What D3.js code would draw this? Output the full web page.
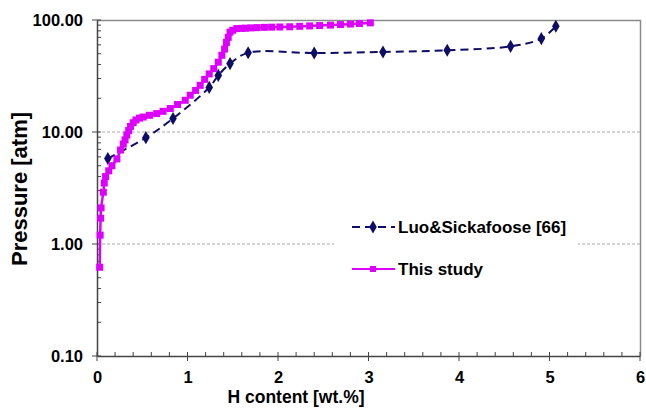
<!DOCTYPE html>
<html>
<head>
<meta charset="utf-8">
<script src="https://cdn.jsdelivr.net/npm/d3@7"></script>
<style>
  body { margin: 0; background: #fff; }
  svg text { font-family: "Liberation Sans", Arial, sans-serif; font-weight: bold; fill: #000; }
</style>
</head>
<body>
<div id="chart"></div>
<script>
// data
var luoX = [0.12, 0.54, 0.84, 1.24, 1.34, 1.47, 1.67, 2.40, 3.16, 3.87, 4.57, 4.91, 5.07];
var luoP = [5.8, 8.9, 13.2, 25, 32, 40.8, 51, 50.7, 51.8, 53.7, 58.2, 68.2, 87.9];

var studyX = [0.03, 0.035, 0.04, 0.045, 0.07, 0.08, 0.095, 0.13, 0.165, 0.22, 0.26, 0.29, 0.31, 0.33, 0.35,
  0.37, 0.40, 0.43, 0.47, 0.51, 0.58, 0.66, 0.73, 0.81, 0.89, 0.975, 1.03, 1.09, 1.14, 1.19, 1.24, 1.29,
  1.34, 1.38, 1.41, 1.43, 1.45, 1.47, 1.50, 1.545, 1.60, 1.64, 1.70, 1.77, 1.85, 1.93, 2.02, 2.13, 2.24,
  2.35, 2.46, 2.58, 2.69, 2.80, 2.90, 3.02];
var studyP = [0.62, 1.2, 1.7, 2.1, 2.9, 3.5, 4.0, 4.5, 5.0, 5.75, 6.9, 7.8, 8.5, 9.4, 10.3,
  11.2, 12.1, 12.8, 13.3, 13.6, 14.1, 14.6, 15.3, 16.2, 17.6, 19.2, 21.3, 23.5, 26.1, 29.5, 33, 36.8,
  42, 48.4, 55, 63, 70, 78, 81, 83.8, 84.2, 84.5, 85, 85.5, 86, 86.3, 86.6, 87, 87.8,
  88.5, 89.2, 90, 91, 92, 93, 94.3];

var xTicks = [0, 1, 2, 3, 4, 5, 6];
var yTicks = [0.1, 1, 10, 100];
var seriesNames = ["Luo&Sickafoose [66]", "This study"];

var W = 646, H = 412;
var plot = { left: 97, right: 640, top: 20, bottom: 356 };
var navy = "#0d0d66", magenta = "#dd00ff";

var svg = d3.select("#chart").append("svg")
  .attr("width", W).attr("height", H);

var x = d3.scaleLinear().domain([0, 6]).range([plot.left, plot.right]);
var y = d3.scaleLog().domain([0.1, 100]).range([plot.bottom, plot.top]);

// minor tick values
var yMinor = [];
[0.1, 1, 10].forEach(function(d) {
  for (var k = 2; k <= 9; k++) yMinor.push(d * k);
});
var xMinor = d3.range(0, 6.001, 0.2).filter(function(d) { return Math.abs(d - Math.round(d)) > 0.01; });

// gridlines
svg.selectAll(".grid")
  .data([1, 10])
  .enter().append("line")
  .attr("x1", plot.left).attr("x2", plot.right)
  .attr("y1", function(d) { return y(d); })
  .attr("y2", function(d) { return y(d); })
  .attr("stroke", "#a8a8a8")
  .attr("stroke-width", 1)
  .attr("stroke-dasharray", "3,2");

// frame top and right
svg.append("path")
  .attr("d", "M" + plot.left + "," + (plot.top + 0.5) + "H" + (plot.right + 0.5) + "V" + plot.bottom)
  .attr("fill", "none")
  .attr("stroke", "#8a8a8a")
  .attr("stroke-width", 1.5);

// y axis
var yAxis = d3.axisLeft(y).tickValues(yTicks).tickFormat(d3.format(".2f")).tickSize(0).tickPadding(14);
var gy = svg.append("g").attr("transform", "translate(" + plot.left + ",0)").call(yAxis);
gy.select(".domain").attr("stroke", "#444").attr("stroke-width", 1.5);
gy.selectAll("text").style("font-size", "16.5px").attr("fill", "#000");
gy.selectAll(".maj")
  .data(yTicks).enter().append("line")
  .attr("x1", -5).attr("x2", 4)
  .attr("y1", function(d) { return y(d); }).attr("y2", function(d) { return y(d); })
  .attr("stroke", "#444");
gy.selectAll(".minor")
  .data(yMinor).enter().append("line")
  .attr("x1", 0).attr("x2", 4)
  .attr("y1", function(d) { return y(d); }).attr("y2", function(d) { return y(d); })
  .attr("stroke", "#444");

// x axis
var xAxis = d3.axisBottom(x).tickValues(xTicks).tickFormat(d3.format("d")).tickSize(0).tickPadding(15);
var gx = svg.append("g").attr("transform", "translate(0," + plot.bottom + ")").call(xAxis);
gx.select(".domain").attr("stroke", "#444").attr("stroke-width", 1.5);
gx.selectAll("text").style("font-size", "16.5px").attr("fill", "#000");
gx.selectAll(".maj")
  .data(xTicks).enter().append("line")
  .attr("y1", -4).attr("y2", 5)
  .attr("x1", function(d) { return x(d); }).attr("x2", function(d) { return x(d); })
  .attr("stroke", "#444");
gx.selectAll(".minor")
  .data(xMinor).enter().append("line")
  .attr("y1", -4).attr("y2", 0)
  .attr("x1", function(d) { return x(d); }).attr("x2", function(d) { return x(d); })
  .attr("stroke", "#444");

// axis titles
svg.append("text")
  .attr("transform", "translate(27,189) rotate(-90)")
  .attr("text-anchor", "middle")
  .style("font-size", "22px")
  .text("Pressure [atm]");
svg.append("text")
  .attr("x", 296).attr("y", 403)
  .attr("text-anchor", "middle")
  .style("font-size", "17.5px")
  .text("H content [wt.%]");

// legend background covers grid
var legend = svg.append("g");
legend.append("rect")
  .attr("x", 334).attr("y", 208).attr("width", 244).attr("height", 80)
  .attr("fill", "#fff");

var luo = luoX.map(function(d, i) { return { x: d, p: luoP[i] }; });
var study = studyX.map(function(d, i) { return { x: d, p: studyP[i] }; });

var diamond = d3.symbol().type(d3.symbolDiamond).size(50);

// Luo & Sickafoose series
svg.append("path")
  .datum(luo)
  .attr("fill", "none")
  .attr("stroke", navy)
  .attr("stroke-width", 2)
  .attr("stroke-dasharray", "8,5")
  .attr("d", d3.line().curve(d3.curveCatmullRom).x(function(d) { return x(d.x); }).y(function(d) { return y(d.p); }));
svg.selectAll(".luo")
  .data(luo).enter().append("path")
  .attr("d", diamond)
  .attr("transform", function(d) { return "translate(" + x(d.x) + "," + y(d.p) + ")"; })
  .attr("fill", navy);

// This study series
svg.append("path")
  .datum(study)
  .attr("fill", "none")
  .attr("stroke", magenta)
  .attr("stroke-width", 2.5)
  .attr("d", d3.line().curve(d3.curveCatmullRom).x(function(d) { return x(d.x); }).y(function(d) { return y(d.p); }));
svg.selectAll(".study")
  .data(study).enter().append("rect")
  .attr("x", function(d) { return x(d.x) - 3.5; })
  .attr("y", function(d) { return y(d.p) - 3.5; })
  .attr("width", 7).attr("height", 7)
  .attr("fill", magenta);

// legend entries
legend.append("line")
  .attr("x1", 352).attr("x2", 395).attr("y1", 227).attr("y2", 227)
  .attr("stroke", navy).attr("stroke-width", 2).attr("stroke-dasharray", "8,5");
legend.append("path").attr("d", diamond).attr("transform", "translate(373,227)").attr("fill", navy);
legend.append("line")
  .attr("x1", 352).attr("x2", 395).attr("y1", 269).attr("y2", 269)
  .attr("stroke", magenta).attr("stroke-width", 2);
legend.append("rect").attr("x", 370).attr("y", 266).attr("width", 6).attr("height", 6).attr("fill", magenta);
legend.selectAll(".lt")
  .data(seriesNames).enter().append("text")
  .attr("x", 398)
  .attr("y", function(d, i) { return 233 + i * 42; })
  .style("font-size", "17px")
  .text(function(d) { return d; });
</script>
</body>
</html>
